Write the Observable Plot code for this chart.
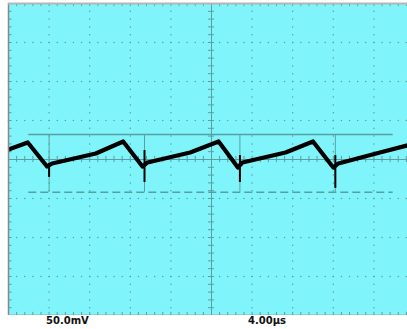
<!DOCTYPE html>
<html>
<head>
<meta charset="utf-8">
<script src="https://cdn.jsdelivr.net/npm/d3@7"></script>
<script src="https://cdn.jsdelivr.net/npm/@observablehq/plot@0.6"></script>
<style>
  html, body { margin: 0; padding: 0; background: #fff; overflow: hidden; width: 407px; height: 329px; }
  #chart { width: 414px; height: 315px; overflow: hidden; }
  #chart svg { display: block; max-width: none !important; width: 414px !important; height: 315px !important; }
  #labels { position: relative; height: 14px; width: 407px; font-family: "DejaVu Sans", sans-serif; font-weight: bold; font-size: 10px; color: #111; }
  #labels span { position: absolute; top: 1px; line-height: 10px; }
</style>
</head>
<body>
<div id="chart"></div>
<div id="labels"><span id="vlabel"></span><span id="hlabel"></span></div>
<script>
// Scope settings
const voltsPerDiv = 50;   // mV
const timePerDiv = 4;     // µs
const scaleLabels = ["50.0mV", "4.00µs"];

// Waveform (time µs, voltage mV)
const traceT = [-20.0, -18.1, -16.2, -15.7, -11.4, -8.7, -6.8, -6.3, -2.1, 0.7, 2.6, 3.05, 7.3, 10.0, 12.0, 12.5, 16.6, 20.0];
const traceV = [12.8, 21.8, -9, -5.1, 7.7, 23.1, -9, -3.8, 9, 23.1, -10.3, -3.8, 9, 23.1, -10.3, -5.1, 9, 20.5];

// Switching spikes
const spikeT = [-16.0, -6.6, 2.8, 12.2];
const spikeHigh = [-5, 11.5, 5, 5];
const spikeLow = [-23, -29.5, -29.5, -37];

// Cursors
const cursorUpper = 32;    // mV (solid)
const cursorLower = -42;   // mV (dashed)
const cursorStart = -18.0; // µs
const cursorEnd = 17.9;    // µs

const xDomain = [-5 * timePerDiv, 5 * timePerDiv];
const yDomain = [-4 * voltsPerDiv, 4 * voltsPerDiv];

const xMajor = d3.range(-5, 5.001, 1).map(d => d * timePerDiv);
const yMajor = d3.range(-4, 4.001, 1).map(d => d * voltsPerDiv);
const xMinor = d3.range(-25, 25.001, 1).map(d => d * timePerDiv / 5);
const yMinor = d3.range(-20, 20.001, 1).map(d => d * voltsPerDiv / 5);

const trace = traceT.map((t, i) => ({t, v: traceV[i]}));
const spikes = spikeT.map((t, i) => ({t, hi: spikeHigh[i], lo: spikeLow[i]}));

const gridColor = "#5d9ea2";
const cursorColor = "#5a9fa0";
const bg = "#7ff5fb";

const vGridDots = xMajor.filter(x => x !== 0 && x !== xDomain[0]).flatMap(x => yMinor.map(y => ({x, y})));
const hGridDots = yMajor.filter(y => y !== 0 && y !== yDomain[0] && y !== yDomain[1]).flatMap(y => xMinor.map(x => ({x, y})));

const plot = Plot.plot({
  width: 414,
  height: 315,
  marginLeft: 8,
  marginRight: 0,
  marginTop: 3,
  marginBottom: 0,
  x: {domain: xDomain, axis: null},
  y: {domain: yDomain, axis: null},
  marks: [
    Plot.frame({fill: bg}),
    // dotted graticule
    Plot.dot(vGridDots, {x: "x", y: "y", r: 0.75, fill: gridColor, stroke: null}),
    Plot.dot(hGridDots, {x: "x", y: "y", r: 0.75, fill: gridColor, stroke: null}),
    // center cross
    Plot.ruleX([0], {stroke: gridColor, strokeWidth: 1}),
    Plot.ruleY([0], {stroke: gridColor, strokeWidth: 1}),
    Plot.ruleY(yMinor, {x1: -0.3, x2: 0.3, stroke: gridColor, strokeWidth: 1}),
    Plot.ruleX(xMinor, {y1: -4, y2: 4, stroke: gridColor, strokeWidth: 1}),
    // border ticks
    Plot.ruleX(xMinor, {y1: yDomain[1], y2: yDomain[1] - 4, stroke: gridColor, strokeWidth: 1}),
    Plot.ruleX(xMinor, {y1: yDomain[0], y2: yDomain[0] + 4, stroke: gridColor, strokeWidth: 1}),
    Plot.ruleY(yMinor, {x1: xDomain[0], x2: xDomain[0] + 0.35, stroke: gridColor, strokeWidth: 1}),
    // cursors
    Plot.ruleY([cursorUpper], {x1: cursorStart, x2: cursorEnd, stroke: cursorColor, strokeWidth: 1.5}),
    Plot.ruleY([cursorLower], {x1: cursorStart, x2: cursorEnd, stroke: cursorColor, strokeWidth: 1.5, strokeDasharray: "8,4"}),
    Plot.ruleX(spikeT, {y1: cursorUpper, y2: cursorLower, stroke: cursorColor, strokeWidth: 1}),
    // waveform
    Plot.line(trace, {x: "t", y: "v", stroke: "#000", strokeWidth: 4.2, strokeLinejoin: "round", strokeLinecap: "butt"}),
    Plot.ruleX(spikes, {x: "t", y1: "lo", y2: "hi", stroke: "#000", strokeWidth: 2}),
    // border
    Plot.ruleX([xDomain[0]], {stroke: "#888", strokeWidth: 1.5}),
    Plot.ruleY([yDomain[0]], {stroke: "#888", strokeWidth: 1.5}),
    Plot.ruleY([yDomain[1]], {stroke: "#b5b5b5", strokeWidth: 2})
  ]
});
document.getElementById("chart").appendChild(plot);

// scale labels under the screen
const v = document.getElementById("vlabel");
v.textContent = scaleLabels[0];
v.style.left = "46px";
const h = document.getElementById("hlabel");
h.textContent = scaleLabels[1];
h.style.left = "248px";
</script>
</body>
</html>
